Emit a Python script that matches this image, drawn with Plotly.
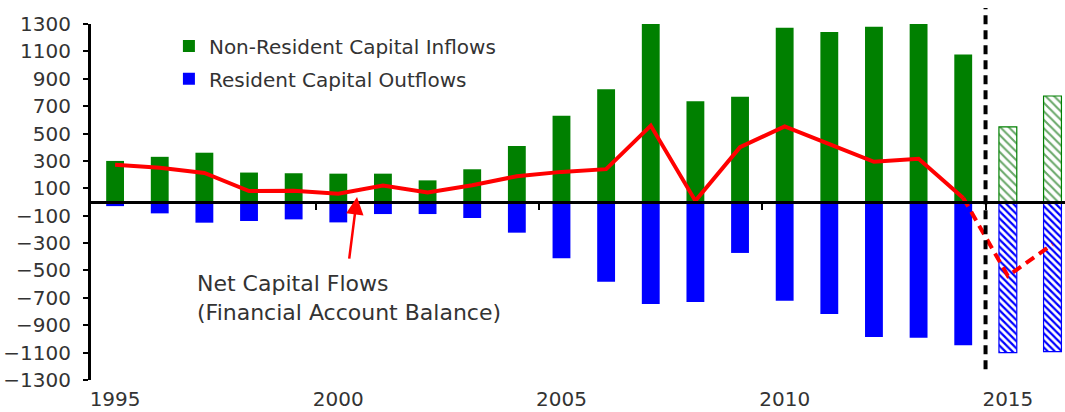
import plotly.graph_objects as go

# Capital flows, actual years and forecast years
years_actual = list(range(1995, 2015))
years_forecast = [2015, 2016]

inflows_actual = [300, 330, 360, 215, 210, 207, 207, 158, 239, 409,
                  630, 823, 1300, 735, 769, 1273, 1241, 1280, 1305, 1078]
outflows_actual = [-30, -83, -151, -139, -127, -149, -88, -88, -117, -224,
                   -411, -582, -745, -730, -372, -721, -818, -986, -991, -1047]
net_actual = [272, 250, 212, 80, 82, 60, 120, 70, 122, 188,
              220, 240, 558, 8, 400, 552, 422, 294, 316, 30]

inflows_forecast = [548, 774]
outflows_forecast = [-1100, -1093]
net_forecast = [-540, -310]

y_ticks = list(range(-1300, 1301, 200))
x_label_years = [1995, 2000, 2005, 2010, 2015]
x_tick_marks = [1999.5, 2004.5, 2009.5, 2014.5]
forecast_divider = 2014.5

GREEN = "#008000"
BLUE = "#0000ff"
RED = "#ff0000"
TEXT = "#333333"
FONT = "DejaVu Sans"
BAR_W = 0.4

fig = go.Figure()

fig.add_trace(go.Bar(
    x=years_actual, y=inflows_actual, width=BAR_W,
    marker=dict(color=GREEN, line=dict(width=0)),
    name="Non-Resident Capital Inflows", legend="legend",
))
fig.add_trace(go.Bar(
    x=years_actual, y=outflows_actual, width=BAR_W,
    marker=dict(color=BLUE, line=dict(width=0)),
    name="Resident Capital Outflows", legend="legend2",
))
fig.add_trace(go.Bar(
    x=years_forecast, y=inflows_forecast, width=BAR_W, showlegend=False,
    marker=dict(color=GREEN, line=dict(color=GREEN, width=1.2),
                pattern=dict(shape="\\", fillmode="replace", fgcolor="#6aa86a",
                             bgcolor="white", size=6, solidity=0.35)),
))
fig.add_trace(go.Bar(
    x=years_forecast, y=outflows_forecast, width=BAR_W, showlegend=False,
    marker=dict(color=BLUE, line=dict(color=BLUE, width=1.2),
                pattern=dict(shape="\\", fillmode="replace", fgcolor=BLUE,
                             bgcolor="white", size=5, solidity=0.45)),
))

# Net flows: solid for actuals, dashed for the forecast segment
fig.add_trace(go.Scatter(
    x=years_actual, y=net_actual, mode="lines", showlegend=False,
    line=dict(color=RED, width=4),
))
fig.add_trace(go.Scatter(
    x=[years_actual[-1]] + years_forecast, y=[net_actual[-1]] + net_forecast,
    mode="lines", showlegend=False, xaxis="x2",
    line=dict(color=RED, width=4, dash="10px,6px"),
))

x_range = [1994.46, 2016.28]

fig.update_layout(
    width=1065, height=412,
    margin=dict(l=91, r=0, t=24, b=32),
    paper_bgcolor="white", plot_bgcolor="white",
    barmode="overlay",
    font=dict(family=FONT, color=TEXT, size=20),
    xaxis=dict(
        range=x_range, tickvals=x_label_years, ticks="", showline=False,
        showgrid=False, zeroline=False, ticklabelstandoff=5,
        tickfont=dict(size=20, color=TEXT),
    ),
    xaxis2=dict(
        range=x_range, overlaying="x", anchor="free", position=0.5,
        showline=True, linecolor="black", linewidth=3,
        ticks="outside", tickvals=x_tick_marks, ticklen=6, tickwidth=2,
        tickcolor="black", showticklabels=False, showgrid=False, zeroline=False,
    ),
    yaxis=dict(
        range=[-1300, 1300], tickvals=y_ticks, showgrid=False, zeroline=False,
        showline=True, linecolor="black", linewidth=3,
        ticks="outside", ticklen=5, tickwidth=2, tickcolor="black",
        ticklabelstandoff=8, tickfont=dict(size=20, color=TEXT),
    ),
    legend=dict(x=0.08, y=0.938, xanchor="left", yanchor="middle",
                bgcolor="rgba(0,0,0,0)", font=dict(size=20, color=TEXT)),
    legend2=dict(x=0.08, y=0.846, xanchor="left", yanchor="middle",
                 bgcolor="rgba(0,0,0,0)", font=dict(size=20, color=TEXT)),
    shapes=[dict(
        type="line", xref="x", yref="paper",
        x0=forecast_divider, x1=forecast_divider, y0=0.03, y1=1.045,
        line=dict(color="black", width=4, dash="9px,6px"),
    )],
    annotations=[
        dict(x=2000.42, y=36, xref="x", yref="y", text="", showarrow=True,
             ax=-8, ay=63, arrowcolor=RED, arrowwidth=2.5, arrowhead=2,
             arrowsize=1.4, standoff=0),
        dict(x=1996.8, y=-701, xref="x", yref="y", xanchor="left", yanchor="middle",
             align="left", showarrow=False,
             text="Net Capital Flows<br>(Financial Account Balance)",
             font=dict(size=22, color=TEXT, family=FONT)),
    ],
)

fig.write_html("out.html")
